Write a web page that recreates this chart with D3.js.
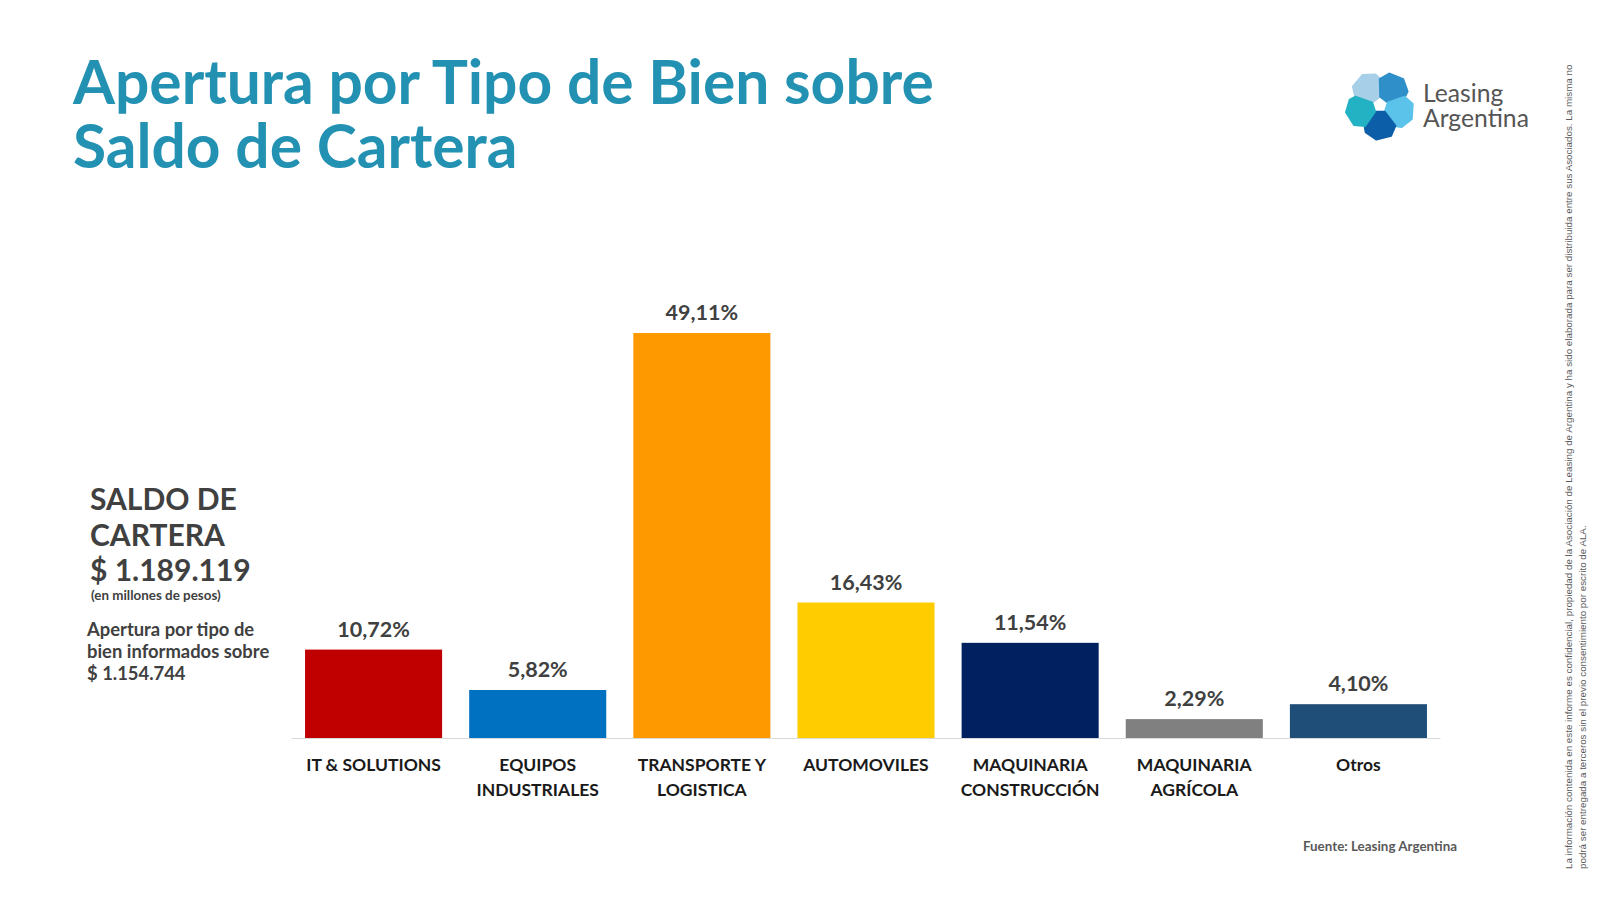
<!DOCTYPE html>
<html>
<head>
<meta charset="utf-8">
<script src="https://cdn.jsdelivr.net/npm/d3@7"></script>
<style>
    html, body { margin: 0; padding: 0; background: #fff; }
    #chart { width: 1600px; height: 900px; }
</style>
</head>
<body>
<div id="chart"></div>
<script>
// Chart data
const categoryLines = [
    ['IT & SOLUTIONS'],
    ['EQUIPOS', 'INDUSTRIALES'],
    ['TRANSPORTE Y', 'LOGISTICA'],
    ['AUTOMOVILES'],
    ['MAQUINARIA', 'CONSTRUCCIÓN'],
    ['MAQUINARIA', 'AGRÍCOLA'],
    ['Otros']
];
const categories = categoryLines.map(l => l.join(' '));
const shares = [10.72, 5.82, 49.11, 16.43, 11.54, 2.29, 4.10];
const barColors = ['#c00000', '#0070c0', '#ff9900', '#ffcc00', '#002060', '#808080', '#1f4e79'];

const titleLines = ['Apertura por Tipo de Bien sobre', 'Saldo de Cartera'];
const sideTitle = ['SALDO DE', 'CARTERA', '$ 1.189.119'];
const sideUnit = '(en millones de pesos)';
const sideNote = ['Apertura por tipo de', 'bien informados sobre', '$ 1.154.744'];
const sourceText = 'Fuente: Leasing Argentina';
const logoText = ['Leasing', 'Argentina'];
const disclaimer = [
    'La información contenida en este informe es confidencial, propiedad de la Asociación de Leasing de Argentina y ha sido elaborada para ser distribuida entre sus Asociados. La misma no',
    'podrá ser entregada a terceros sin el previo consentimiento por escrito de ALA.'
];

const width = 1600, height = 900;
const font = 'Lato, "Open Sans", sans-serif';
const esLocale = d3.formatLocale({ decimal: ',', thousands: '.', grouping: [3], currency: ['$', ''] });
const pct = v => esLocale.format('.2f')(v) + '%';

const svg = d3.select('#chart')
    .append('svg')
    .attr('width', width)
    .attr('height', height)
    .style('font-family', font);

// Title
svg.append('g')
    .selectAll('text')
    .data(titleLines)
    .enter()
    .append('text')
    .attr('x', 73)
    .attr('y', (d, i) => 104 + i * 64)
    .attr('fill', '#2391b2')
    .attr('font-size', 60.5)
    .attr('font-weight', 700)
    .text(d => d);

// Scales
const x = d3.scaleBand()
    .domain(categories)
    .range([291.5, 1440.5])
    .paddingInner(0.165)
    .paddingOuter(0.0825);

const y = d3.scaleLinear()
    .domain([0, 49.11])
    .range([738, 333]);

// Bars
const bars = svg.append('g');
bars.selectAll('rect')
    .data(shares)
    .enter()
    .append('rect')
    .attr('x', (d, i) => x(categories[i]))
    .attr('y', d => y(d))
    .attr('width', x.bandwidth())
    .attr('height', d => y(0) - y(d))
    .attr('fill', (d, i) => barColors[i]);

// Baseline
svg.append('line')
    .attr('x1', x.range()[0])
    .attr('x2', x.range()[1])
    .attr('y1', y(0) + 0.5)
    .attr('y2', y(0) + 0.5)
    .attr('stroke', '#d9d9d9')
    .attr('stroke-width', 1);

// Value labels
bars.selectAll('text.value')
    .data(shares)
    .enter()
    .append('text')
    .attr('class', 'value')
    .attr('x', (d, i) => x(categories[i]) + x.bandwidth() / 2)
    .attr('y', d => y(d) - 13)
    .attr('text-anchor', 'middle')
    .attr('fill', '#404040')
    .attr('font-size', 21.5)
    .attr('font-weight', 700)
    .text(d => pct(d));

// Category labels
const cat = svg.append('g')
    .selectAll('text')
    .data(categoryLines)
    .enter()
    .append('text')
    .attr('x', (d, i) => x(categories[i]) + x.bandwidth() / 2)
    .attr('y', 771)
    .attr('text-anchor', 'middle')
    .attr('fill', '#1a1a1a')
    .attr('font-size', 17.5)
    .attr('font-weight', 700);

cat.selectAll('tspan')
    .data(d => d)
    .enter()
    .append('tspan')
    .attr('x', function() { return d3.select(this.parentNode).attr('x'); })
    .attr('dy', (d, i) => i === 0 ? 0 : 25)
    .text(d => d);

// Side panel
const side = svg.append('g').attr('fill', '#404040').attr('font-weight', 700);
side.selectAll('text.big')
    .data(sideTitle)
    .enter()
    .append('text')
    .attr('class', 'big')
    .attr('x', 90)
    .attr('y', (d, i) => 510 + i * 35.5)
    .attr('font-size', 30)
    .text(d => d);

side.append('text')
    .attr('x', 91)
    .attr('y', 600)
    .attr('font-size', 13.4)
    .text(sideUnit);

side.selectAll('text.note')
    .data(sideNote)
    .enter()
    .append('text')
    .attr('class', 'note')
    .attr('x', 87)
    .attr('y', (d, i) => 636 + i * 22)
    .attr('font-size', 18.4)
    .text(d => d);

// Source
svg.append('text')
    .attr('x', 1457)
    .attr('y', 851)
    .attr('text-anchor', 'end')
    .attr('fill', '#595959')
    .attr('font-size', 13.4)
    .attr('font-weight', 700)
    .text(sourceText);

// Disclaimer (vertical)
svg.append('g')
    .selectAll('text')
    .data(disclaimer)
    .enter()
    .append('text')
    .attr('transform', (d, i) => `translate(${1572 + i * 13.5},869) rotate(-90)`)
    .attr('fill', '#595959')
    .attr('font-size', 9.8)
    .attr('font-family', '"Liberation Sans", Arial, sans-serif')
    .text(d => d);

// Logo: five-arm pinwheel around a small white pentagon
const logo = svg.append('g').attr('transform', 'translate(1380,105)');
const armColors = ['#a7cfe7', '#2f8fc8', '#5bc2ea', '#0d5ea8', '#22b2c3'];
const armTips = [-36, 36, 108, 180, 252];
const polar = (r, a) => [r * Math.sin(a * Math.PI / 180), -r * Math.cos(a * Math.PI / 180)];
const armShape = t => [[8, t - 36], [26, t - 37], [33, t - 20], [35, t + 6], [31, t + 28], [26, t + 37], [8, t + 36]]
    .map(p => polar(p[0], p[1]));
logo.selectAll('path')
    .data(armTips)
    .enter()
    .append('path')
    .attr('d', t => d3.line()(armShape(t)) + 'Z')
    .attr('fill', (t, i) => armColors[i])
    .attr('stroke', (t, i) => armColors[i])
    .attr('stroke-width', 1.5)
    .attr('stroke-linejoin', 'round');

svg.append('g')
    .selectAll('text')
    .data(logoText)
    .enter()
    .append('text')
    .attr('x', 1423)
    .attr('y', (d, i) => 102 + i * 24.5)
    .attr('fill', '#555')
    .attr('font-size', 24.7)
    .text(d => d);
</script>
</body>
</html>
